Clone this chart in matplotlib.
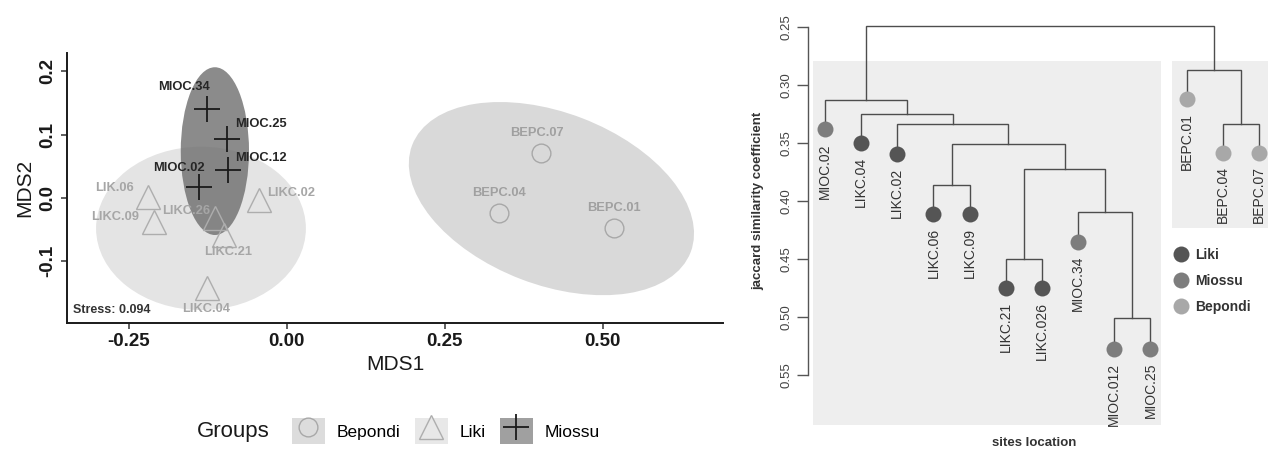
import matplotlib
matplotlib.use("Agg")
import matplotlib.pyplot as plt
from matplotlib.patches import Ellipse, Rectangle, Patch
from matplotlib.lines import Line2D
from matplotlib.legend_handler import HandlerTuple

plt.rcParams['font.family'] = ['Liberation Sans', 'DejaVu Sans']

# ---- NMDS data ----
site_names = ["BEPC.07", "BEPC.04", "BEPC.01",
              "LIK.06", "LIKC.09", "LIKC.26", "LIKC.21", "LIKC.02", "LIKC.04",
              "MIOC.34", "MIOC.25", "MIOC.12", "MIOC.02"]
site_group = ["Bepondi"] * 3 + ["Liki"] * 6 + ["Miossu"] * 4
mds1 = [0.402, 0.336, 0.518,
        -0.220, -0.210, -0.114, -0.100, -0.044, -0.127,
        -0.127, -0.095, -0.094, -0.139]
mds2 = [0.071, -0.023, -0.048,
        0.002, -0.038, -0.032, -0.058, -0.003, -0.142,
        0.141, 0.093, 0.044, 0.017]
stress = 0.094

group_names = ["Bepondi", "Liki", "Miossu"]
ell_x = [0.4185, -0.136, -0.114]
ell_y = [-0.001, -0.048, 0.074]
ell_w = [0.472, 0.332, 0.108]
ell_h = [0.272, 0.258, 0.265]
ell_angle = [-21.0, 0.0, 0.0]

# ---- dendrogram data ----
leaf_labels = ["MIOC.02", "LIKC.04", "LIKC.02", "LIKC.06", "LIKC.09", "LIKC.21",
               "LIKC.026", "MIOC.34", "MIOC.012", "MIOC.25", "BEPC.01", "BEPC.04", "BEPC.07"]
leaf_group = ["Miossu", "Liki", "Liki", "Liki", "Liki", "Liki",
              "Liki", "Miossu", "Miossu", "Miossu", "Bepondi", "Bepondi", "Bepondi"]
leaf_height = [0.338, 0.350, 0.359, 0.411, 0.411, 0.475,
               0.475, 0.435, 0.527, 0.527, 0.312, 0.358, 0.358]
# R hclust style merges: negative = leaf (1-based), positive = earlier merge
merges = [(-4, -5, 0.386), (-6, -7, 0.450), (-9, -10, 0.501), (-8, 3, 0.409),
          (2, 4, 0.372), (1, 5, 0.351), (-3, 6, 0.333), (-2, 7, 0.325),
          (-1, 8, 0.313), (-12, -13, 0.333), (-11, 10, 0.287), (9, 11, 0.249)]

W, H = 1268, 450
fig = plt.figure(figsize=(W / 100, H / 100), dpi=100)

# ================= left: NMDS =================
ax = fig.add_axes([67 / W, (H - 323) / H, 656 / W, 270 / H])
ell_face = {"Bepondi": "#d9d9d9", "Liki": "#e4e4e4", "Miossu": "#6e6e6e"}
ell_alpha = {"Bepondi": 1.0, "Liki": 1.0, "Miossu": 0.8}
for g in ["Liki", "Bepondi", "Miossu"]:
    i = group_names.index(g)
    ax.add_patch(Ellipse((ell_x[i], ell_y[i]), ell_w[i], ell_h[i], angle=ell_angle[i],
                         facecolor=ell_face[g], alpha=ell_alpha[g], edgecolor="none", zorder=1))

mk = {"Bepondi": dict(marker="o", ms=13.5, mfc="none", mec="#a8a8a8", mew=1.0),
      "Liki": dict(marker="^", ms=17, mfc="none", mec="#adadad", mew=1.0),
      "Miossu": dict(marker="+", ms=19, mec="#1a1a1a", mew=1.3)}
lab_col = {"Bepondi": "#a0a0a0", "Liki": "#a6a6a6", "Miossu": "#262626"}
lab_off = [(-3, 14.4), (0, 14.4), (0, 15),
           (-23.8, 6.5), (-28, 3.6), (-21, 5), (3, -12.2), (23, 5), (-0.7, -15),
           (-16.6, 15.8), (24.5, 10.8), (23.8, 8.6), (-14.4, 13.7)]
for name, g, x, y, off in zip(site_names, site_group, mds1, mds2, lab_off):
    ax.plot([x], [y], linestyle="none", zorder=3, **mk[g])
    ax.annotate(name, (x, y), xytext=off, textcoords="offset points", ha="center", va="center",
                fontsize=9.3, fontweight="bold", color=lab_col[g], zorder=4)

fig.text(73 / W, 1 - 310 / H, f"Stress: {stress}", fontsize=9, fontweight="bold",
         color="#333333", ha="left", va="center")

ax.set_xlim(-0.348, 0.690)
ax.set_ylim(-0.1975, 0.229)
ax.set_xticks([-0.25, 0.0, 0.25, 0.5])
ax.set_xticklabels(["-0.25", "0.00", "0.25", "0.50"])
ax.set_yticks([-0.1, 0.0, 0.1, 0.2])
ax.set_yticklabels(["-0.1", "0.0", "0.1", "0.2"], rotation=90, va="center")
for s in ["top", "right"]:
    ax.spines[s].set_visible(False)
for s in ["left", "bottom"]:
    ax.spines[s].set_linewidth(1.4)
    ax.spines[s].set_color("#1a1a1a")
ax.tick_params(direction="out", length=4, width=1.1, color="#333333", labelsize=13.5,
               labelcolor="#1a1a1a")
for lbl in ax.get_xticklabels() + ax.get_yticklabels():
    lbl.set_fontweight("bold")
ax.set_xlabel("MDS1", fontsize=15, color="#1a1a1a", labelpad=3)
ax.set_ylabel("MDS2", fontsize=15, color="#1a1a1a", labelpad=4)

# legend at bottom
key_bg = {"Bepondi": "#dcdcdc", "Liki": "#e8e8e8", "Miossu": "#a0a0a0"}
handles = []
for g in group_names:
    handles.append((Patch(facecolor=key_bg[g], edgecolor="none"),
                    Line2D([], [], linestyle="none", **mk[g])))
fig.text(197 / W, 1 - 432 / H, "Groups", fontsize=16, color="#1a1a1a", ha="left", va="center")
fig.legend(handles, group_names, handler_map={tuple: HandlerTuple(ndivide=1)},
           ncol=3, loc="center left", bbox_to_anchor=(278 / W, 1 - 431 / H), frameon=False,
           fontsize=12.5, handlelength=1.9, handleheight=1.9, handletextpad=0.7,
           columnspacing=0.8, borderpad=0.3)

# ================= right: dendrogram =================
ax2 = fig.add_axes([808 / W, (H - 430) / H, 460 / W, 410 / H])
ax2.set_xlim(0.53, 13.25)
ax2.set_ylim(0.5972, 0.2437)
ax2.add_patch(Rectangle((0.668, 0.2791), 10.29 - 0.668, 0.5928 - 0.2791,
                        facecolor="#eeeeee", edgecolor="none", zorder=0))
ax2.add_patch(Rectangle((10.59, 0.2791), 3.0, 0.423 - 0.2791,
                        facecolor="#eeeeee", edgecolor="none", zorder=0, clip_on=False))

leaf_x = list(range(1, len(leaf_labels) + 1))
node_x, node_h = [], []


def pos(ref):
    if ref < 0:
        return leaf_x[-ref - 1], leaf_height[-ref - 1]
    return node_x[ref - 1], node_h[ref - 1]


line_col = "#4d4d4d"
for a, b, h in merges:
    xa, ha_ = pos(a)
    xb, hb = pos(b)
    ax2.plot([xa, xa, xb, xb], [ha_, h, h, hb], color=line_col, lw=1.0, zorder=2,
             solid_joinstyle="miter")
    node_x.append((xa + xb) / 2)
    node_h.append(h)

dot_col = {"Liki": "#555555", "Miossu": "#7d7d7d", "Bepondi": "#a8a8a8"}
for x, h, lab, g in zip(leaf_x, leaf_height, leaf_labels, leaf_group):
    ax2.plot([x], [h], marker="o", ms=11.5, color=dot_col[g], mec="none", zorder=3)
    ax2.annotate(lab, (x, h), xytext=(0, -10), textcoords="offset points", rotation=90,
                 ha="center", va="top", fontsize=10, color="#333333")

ax2.set_yticks([0.25, 0.30, 0.35, 0.40, 0.45, 0.50, 0.55])
ax2.set_yticklabels(["0.25", "0.30", "0.35", "0.40", "0.45", "0.50", "0.55"],
                    rotation=90, va="center")
ax2.set_xticks([])
for s in ["top", "right", "bottom"]:
    ax2.spines[s].set_visible(False)
ax2.spines["left"].set_bounds(0.25, 0.55)
ax2.spines["left"].set_color("#555555")
ax2.spines["left"].set_linewidth(1.0)
ax2.tick_params(axis="y", direction="out", length=8, width=1.0, color="#555555",
                labelsize=9.5, labelcolor="#444444", pad=3)
ax2.patch.set_visible(False)

fig.text(758 / W, 1 - 201 / H, "jaccard similarity coefficient", rotation=90, ha="center",
         va="center", fontsize=9.5, fontweight="bold", color="#333333")
fig.text(1034 / W, 1 - 443 / H, "sites location", ha="center", va="center",
         fontsize=9.5, fontweight="bold", color="#333333")

leg_handles = [Line2D([], [], linestyle="none", marker="o", ms=11.5, color=dot_col[g], mec="none")
               for g in ["Liki", "Miossu", "Bepondi"]]
ax2.legend(leg_handles, ["Liki", "Miossu", "Bepondi"], loc="upper left",
           bbox_to_anchor=(1163 / W, 1 - 237 / H), bbox_transform=fig.transFigure,
           frameon=False, prop={"size": 10, "weight": "bold"}, labelspacing=0.85,
           handlelength=1.0, handletextpad=0.5, borderpad=0.3, labelcolor="#333333")

fig.savefig("out.png", dpi=100)
